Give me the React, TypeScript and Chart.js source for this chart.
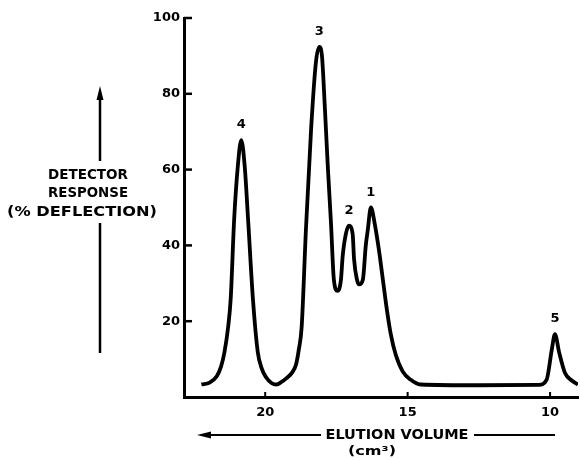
import { useEffect, useRef } from "react";
import { Chart, registerables } from "chart.js";

Chart.register(...registerables);

// Elution volume (cm3) and detector response (% deflection)
const elutionVolume = [
  22.24, 21.95, 21.7, 21.55, 21.43, 21.3, 21.21, 21.09, 20.96, 20.84, 20.72, 20.6, 20.43, 20.26, 20.12,
  19.97, 19.78, 19.6, 19.44, 19.25, 19.05, 18.92, 18.82, 18.72, 18.57, 18.39, 18.22, 18.1, 18.01, 17.9,
  17.8, 17.69, 17.59, 17.46, 17.34, 17.28, 17.17, 17.06, 16.93, 16.88, 16.78, 16.7, 16.57, 16.47, 16.4,
  16.29, 16.15, 16.01, 15.87, 15.73, 15.59, 15.42, 15.17, 14.9, 14.55, 12.5, 10.4, 10.12, 9.94, 9.83,
  9.68, 9.48, 9.23, 9.02,
];
const detectorResponse = [
  3.3, 3.8, 5.5, 8.0, 11.8, 18.5, 26.0, 46.8, 61.0, 67.8, 61.0, 46.8, 25.8, 11.8, 7.5,
  5.2, 3.7, 3.3, 3.9, 5.0, 6.5, 8.5, 12.5, 18.5, 44.2, 70.5, 88.3, 92.4, 90.2, 75.5,
  60.5, 45.8, 31.0, 28.0, 31.0, 37.2, 43.0, 45.2, 43.0, 36.3, 31.0, 29.7, 31.0, 39.9, 44.0,
  50.0, 45.5, 38.9, 31.0, 23.1, 16.5, 11.2, 6.7, 4.6, 3.3, 3.1, 3.2, 4.6, 12.5, 16.6,
  11.7, 6.4, 4.3, 3.3,
];

const xTickValues = [20, 15, 10];
const yTickValues = [20, 40, 60, 80, 100];

const peakLabels = ["4", "3", "2", "1", "5"];
const peakVolume = [20.84, 18.1, 17.06, 16.29, 9.83];
const peakResponse = [67.8, 92.4, 45.2, 50.0, 16.6];

const xTitle = "ELUTION VOLUME";
const xUnit = "(cm³)";
const yTitleLines = ["DETECTOR", "RESPONSE", "(% DEFLECTION)"];

const FONT = "'DejaVu Sans', sans-serif";

function fitText(ctx: CanvasRenderingContext2D, text: string, cx: number, cy: number, width: number) {
  const w = ctx.measureText(text).width;
  const s = width / w;
  ctx.save();
  ctx.translate(cx, cy);
  ctx.scale(s, 1);
  ctx.fillText(text, 0, 0);
  ctx.restore();
}

const decorPlugin = {
  id: "decor",
  afterDraw(chart: any) {
    const ctx = chart.ctx as CanvasRenderingContext2D;
    const xs = chart.scales.x;
    const ys = chart.scales.y;
    const area = chart.chartArea;
    ctx.save();
    ctx.strokeStyle = "#000";
    ctx.fillStyle = "#000";

    // inward tick marks
    ctx.lineWidth = 2.5;
    yTickValues.forEach((v) => {
      const py = ys.getPixelForValue(v);
      ctx.beginPath();
      ctx.moveTo(area.left, py);
      ctx.lineTo(area.left + 8, py);
      ctx.stroke();
    });
    ctx.lineWidth = 2;
    xTickValues.forEach((v) => {
      const px = xs.getPixelForValue(v);
      ctx.beginPath();
      ctx.moveTo(px, area.bottom);
      ctx.lineTo(px, area.bottom - 5);
      ctx.stroke();
    });

    // peak labels
    ctx.font = `bold 13px ${FONT}`;
    ctx.textAlign = "center";
    ctx.textBaseline = "middle";
    peakLabels.forEach((lab, i) => {
      const px = xs.getPixelForValue(peakVolume[i]);
      const py = ys.getPixelForValue(peakResponse[i]);
      ctx.fillText(lab, px, py - 15);
    });

    // y title (horizontal lines of text) with vertical arrow
    ctx.font = `bold 14px ${FONT}`;
    const yCenters = [88, 88, 82];
    const yRows = [175, 193, 212];
    const yWidths = [80, 80, 150];
    yTitleLines.forEach((t, i) => fitText(ctx, t, yCenters[i], yRows[i], yWidths[i]));
    ctx.lineWidth = 2.5;
    ctx.beginPath();
    ctx.moveTo(100, 96);
    ctx.lineTo(100, 161);
    ctx.moveTo(100, 223);
    ctx.lineTo(100, 353);
    ctx.stroke();
    ctx.beginPath();
    ctx.moveTo(100, 86);
    ctx.lineTo(96.5, 100);
    ctx.lineTo(103.5, 100);
    ctx.closePath();
    ctx.fill();

    // x title with horizontal arrow
    ctx.font = `bold 14px ${FONT}`;
    fitText(ctx, xTitle, 397, 435, 143);
    ctx.font = `bold 13px ${FONT}`;
    fitText(ctx, xUnit, 372, 452, 48);
    ctx.lineWidth = 2;
    ctx.beginPath();
    ctx.moveTo(205, 435);
    ctx.lineTo(321, 435);
    ctx.moveTo(474, 435);
    ctx.lineTo(555, 435);
    ctx.stroke();
    ctx.beginPath();
    ctx.moveTo(197, 435);
    ctx.lineTo(211, 431.5);
    ctx.lineTo(211, 438.5);
    ctx.closePath();
    ctx.fill();

    ctx.restore();
  },
};

export default function App() {
  const canvasRef = useRef<HTMLCanvasElement | null>(null);

  useEffect(() => {
    document.body.style.margin = "0";
    document.body.style.background = "#fff";
    const canvas = canvasRef.current;
    if (!canvas) return;
    const points = elutionVolume.map((v, i) => ({ x: v, y: detectorResponse[i] }));
    const chart = new Chart(canvas, {
      type: "line",
      data: {
        datasets: [
          {
            data: points,
            borderColor: "#000",
            borderWidth: 3.8,
            pointRadius: 0,
            fill: false,
            cubicInterpolationMode: "monotone",
          } as any,
        ],
      },
      options: {
        animation: false,
        responsive: false,
        maintainAspectRatio: false,
        layout: { padding: { left: 0, right: 2, top: 18, bottom: 0 } },
        plugins: {
          legend: { display: false },
          tooltip: { enabled: false },
          title: { display: false },
        },
        scales: {
          x: {
            type: "linear",
            reverse: true,
            min: 9.02,
            max: 22.85,
            afterBuildTicks: (scale: any) => {
              scale.ticks = xTickValues.map((v) => ({ value: v }));
            },
            afterFit: (scale: any) => {
              scale.height = 63;
            },
            grid: { display: true, drawOnChartArea: false, drawTicks: false },
            border: { display: true, color: "#000", width: 3 },
            ticks: {
              color: "#000",
              padding: 8,
              font: { family: FONT, size: 13, weight: "bold" },
              maxRotation: 0,
              autoSkip: false,
              callback: (v: any) => String(v),
            },
          },
          y: {
            type: "linear",
            min: 0,
            max: 100,
            afterBuildTicks: (scale: any) => {
              scale.ticks = yTickValues.map((v) => ({ value: v }));
            },
            afterFit: (scale: any) => {
              scale.width = 184;
            },
            grid: { display: true, drawOnChartArea: false, drawTicks: false },
            border: { display: true, color: "#000", width: 3 },
            ticks: {
              color: "#000",
              padding: 4,
              font: { family: FONT, size: 13, weight: "bold" },
              autoSkip: false,
              callback: (v: any) => String(v),
            },
          },
        },
      },
      plugins: [decorPlugin],
    });
    return () => chart.destroy();
  }, []);

  return (
    <div style={{ width: 580, height: 460 }}>
      <canvas ref={canvasRef} width={580} height={460} style={{ display: "block" }} />
    </div>
  );
}
